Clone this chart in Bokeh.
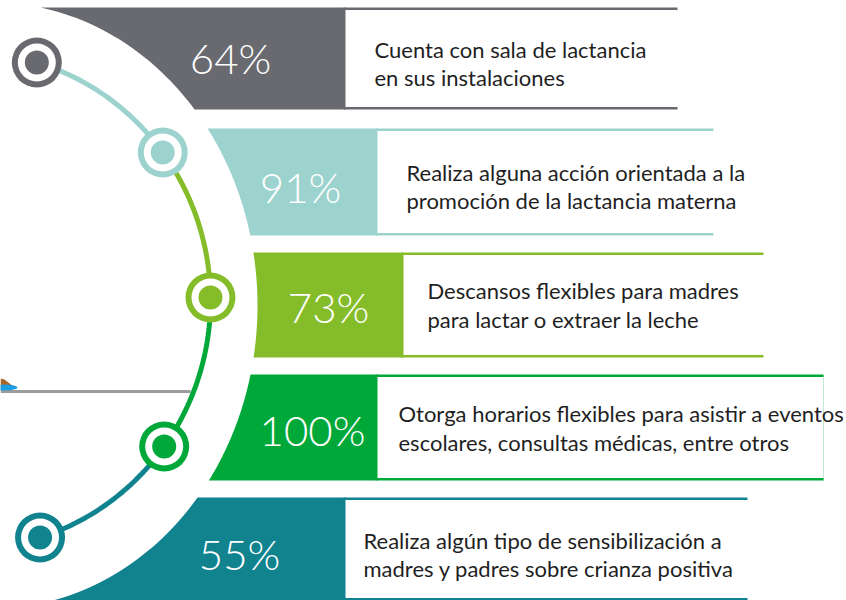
import numpy as np
from bokeh.plotting import figure
from bokeh.models import Range1d, ColumnDataSource
from bokeh.embed import file_html
from bokeh.resources import INLINE
from bokeh.core.properties import value

# ---- data ----
values = [64, 91, 73, 100, 55]
desc_line1 = ["Cuenta con sala de lactancia",
              "Realiza alguna acción orientada a la",
              "Descansos flexibles para madres",
              "Otorga horarios flexibles para asistir a eventos",
              "Realiza algún tipo de sensibilización a"]
desc_line2 = ["en sus instalaciones",
              "promoción de la lactancia materna",
              "para lactar o extraer la leche",
              "escolares, consultas médicas, entre otros",
              "madres y padres sobre crianza positiva"]
colors = ["#696a70", "#9dd3ce", "#84bd29", "#00a83a", "#10838f"]

# ---- layout (pixel positions of the infographic) ----
band_top = [7, 128, 252, 374, 497]
band_bottom = [109, 235, 357, 480, 600]
fill_right = [345, 377, 403, 377, 345]
box_right = [677, 713, 763, 823, 747]
pct_x = [230, 300, 328, 312, 239]
pct_y = [57, 186, 306, 429, 553]
text_x = [374, 406, 427, 398, 363]
text_y1 = [49, 172, 290, 413, 540]
text_y2 = [77, 200, 319, 442, 568]
node_y = [62, 152, 297, 446, 537]


def outer_x(y):
    cx, cy, a, b = -8.0, 305.0, 265.0, 303.0
    return cx + a * np.sqrt(np.clip(1 - ((np.asarray(y) - cy) / b) ** 2, 0, None))


def inner_x(y):
    cx, cy, a, b = -31.6, 300.0, 241.6, 248.0
    return cx + a * np.sqrt(np.clip(1 - ((np.asarray(y) - cy) / b) ** 2, 0, None))


p = figure(width=846, height=600, x_range=Range1d(0, 846), y_range=Range1d(600, 0),
           output_backend="svg", toolbar_location=None, min_border=0,
           x_axis_type=None, y_axis_type=None)
p.grid.visible = False
p.outline_line_color = None
p.background_fill_color = "white"

# bands
xs, ys = [], []
for t, b, fr in zip(band_top, band_bottom, fill_right):
    yy = np.linspace(t, b, 60)
    xx = outer_x(yy)
    xs.append(list(xx) + [fr, fr])
    ys.append(list(yy) + [b, t])
p.patches(xs, ys, fill_color=colors, line_color=None)

# box borders
for i in range(5):
    p.segment(x0=[fill_right[i] - 2, fill_right[i] - 2], x1=[box_right[i], box_right[i]],
              y0=[band_top[i] + 1.3, band_bottom[i] - 1.3], y1=[band_top[i] + 1.3, band_bottom[i] - 1.3],
              line_color=colors[i], line_width=2.6)
p.segment(x0=[box_right[3]], x1=[box_right[3]], y0=[band_top[3]], y1=[band_bottom[3]],
          line_color=colors[3], line_width=1, line_alpha=0.25)

# decorative fragment at left (cropped illustration)
p.segment(x0=[0], x1=[190], y0=[391], y1=[391], line_color="#9c9c9c", line_width=3)
p.patch([0, 4, 13, 0], [378, 379, 386, 386], fill_color="#a8672a", line_color=None)
p.ellipse(x=[5], y=[387], width=24, height=6, fill_color="#1e9de2", line_color=None)

# connecting line
for i in range(4):
    yy = np.linspace(node_y[i], node_y[i + 1], 60)
    p.line(inner_x(yy), yy, line_color=colors[i + 1], line_width=5)

nx = list(inner_x(node_y))
p.circle(nx, node_y, radius=25, fill_color=colors, line_color=None)
p.circle(nx, node_y, radius=19, fill_color="white", line_color=None)
p.circle(nx, node_y, radius=12, fill_color=colors, line_color=None)

# percentages
src = ColumnDataSource(dict(x=pct_x, y=pct_y, t=[f"{v}%" for v in values]))
p.text(x="x", y="y", text="t", source=src, text_color="white", text_align="center",
       text_baseline="middle", text_font=value("Lato Light"), text_font_size="42px")

# descriptions
p.text(x=text_x, y=text_y1, text=desc_line1, text_color="#1f1f1f", text_align="left",
       text_baseline="middle", text_font=value("Lato"), text_font_size="22px")
p.text(x=text_x, y=text_y2, text=desc_line2, text_color="#1f1f1f", text_align="left",
       text_baseline="middle", text_font=value("Lato"), text_font_size="22px")

open("out.html", "w").write(file_html(p, INLINE))
